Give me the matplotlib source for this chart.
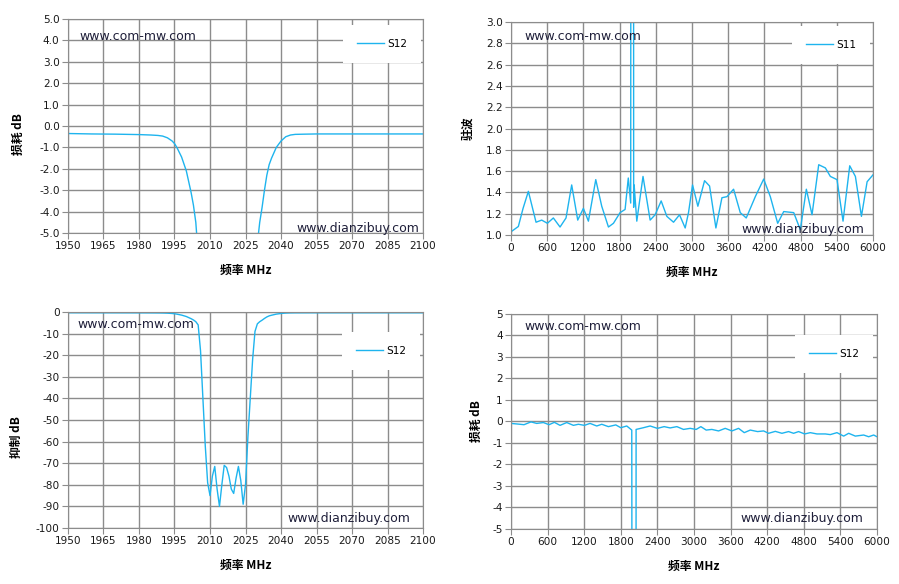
import numpy as np
import matplotlib.pyplot as plt
from matplotlib.ticker import FormatStrFormatter

plt.rcParams['font.family'] = ['DejaVu Sans', 'Noto Sans CJK SC']

# narrow band S12, 1950-2100 MHz (same sweep for loss and rejection plots)
f_nb = [1950, 1960, 1970, 1980, 1985, 1988, 1990, 1992, 1994, 1995, 1996, 1998,
        2000, 2002, 2003, 2004, 2005, 2006, 2007, 2008, 2009, 2010, 2011, 2012,
        2013, 2014, 2015, 2016, 2017, 2018, 2019, 2020, 2021, 2022, 2023, 2024,
        2025, 2026, 2027, 2028, 2029, 2030, 2031, 2032, 2033, 2034, 2035, 2036,
        2038, 2040, 2042, 2044, 2046, 2050, 2055, 2070, 2085, 2100]
s12_nb = [-0.35, -0.37, -0.38, -0.40, -0.42, -0.44, -0.47, -0.55, -0.70, -0.82, -1.0, -1.45,
          -2.1, -3.1, -3.7, -4.5, -6.0, -18, -40, -62, -79, -85, -76, -71.5,
          -82, -90, -80, -71, -72, -76, -82, -84, -77, -71.5, -78, -89,
          -80, -58, -40, -22, -9, -5.5, -4.5, -3.8, -3.0, -2.3, -1.8, -1.5,
          -1.0, -0.70, -0.50, -0.42, -0.39, -0.38, -0.37, -0.37, -0.37, -0.37]

# wide band S11 VSWR, 0-6000 MHz
f_vswr = [0, 122, 200, 288, 415, 509, 603, 702, 813, 912, 1006, 1106, 1200, 1283,
          1405, 1504, 1615, 1698, 1808, 1891, 1944, 1984, 2000, 2025, 2033, 2041,
          2085, 2188, 2306, 2389, 2489, 2583, 2694, 2793, 2887, 2942, 3009, 3097,
          3208, 3291, 3396, 3496, 3579, 3689, 3800, 3899, 4049, 4188, 4298, 4420,
          4520, 4686, 4795, 4895, 4989, 5100, 5210, 5293, 5403, 5503, 5614, 5708,
          5808, 5902, 6000]
vswr = [1.03, 1.08, 1.25, 1.41, 1.12, 1.14, 1.11, 1.16, 1.075, 1.16, 1.47, 1.14, 1.25, 1.13,
        1.52, 1.27, 1.075, 1.11, 1.21, 1.24, 1.535, 1.30, 20.0, 20.0, 1.26, 1.47,
        1.13, 1.55, 1.14, 1.19, 1.32, 1.175, 1.12, 1.19, 1.066, 1.21, 1.47, 1.27,
        1.51, 1.46, 1.066, 1.35, 1.36, 1.43, 1.21, 1.16, 1.36, 1.525, 1.36, 1.11,
        1.22, 1.21, 1.05, 1.43, 1.19, 1.66, 1.63, 1.55, 1.52, 1.13, 1.65, 1.55,
        1.175, 1.50, 1.565]

# wide band S12 loss, 0-6000 MHz
f_wb = [0, 148, 213, 328, 421, 531, 624, 711, 804, 914, 1023, 1105, 1203, 1296,
        1406, 1488, 1597, 1718, 1800, 1898, 1980, 2005, 2044, 2051, 2171, 2281,
        2401, 2511, 2609, 2719, 2828, 2938, 3036, 3113, 3200, 3293, 3403, 3512,
        3622, 3731, 3824, 3923, 4043, 4141, 4223, 4333, 4442, 4551, 4633, 4715,
        4814, 4907, 5016, 5153, 5235, 5344, 5454, 5536, 5645, 5782, 5864, 5946, 6000]
s12_wb = [-0.09, -0.13, -0.15, -0.02, -0.09, -0.05, -0.15, -0.04, -0.18, -0.05, -0.18, -0.13, -0.18, -0.09,
          -0.21, -0.13, -0.24, -0.16, -0.29, -0.21, -0.40, -60, -60, -0.37, -0.29, -0.21,
          -0.32, -0.24, -0.30, -0.24, -0.37, -0.32, -0.37, -0.24, -0.40, -0.37, -0.44, -0.32,
          -0.44, -0.32, -0.52, -0.40, -0.47, -0.44, -0.55, -0.46, -0.55, -0.47, -0.55, -0.47,
          -0.58, -0.52, -0.58, -0.58, -0.61, -0.52, -0.68, -0.55, -0.68, -0.63, -0.71, -0.63, -0.71]

blue = '#1EB4EE'
grid_c = '#8C8C8C'
cjk = ['Noto Sans CJK SC', 'DejaVu Sans']


def style(ax, xlim, xstep, ylim, ystep, yfmt, ylabel, ylab_xy):
    ax.set_xlim(*xlim)
    ax.set_ylim(*ylim)
    ax.set_xticks(np.arange(xlim[0], xlim[1] + 1, xstep))
    ax.set_yticks(np.arange(ylim[0], ylim[1] + ystep / 2, ystep))
    ax.yaxis.set_major_formatter(FormatStrFormatter(yfmt))
    ax.grid(True, color=grid_c, linewidth=1)
    ax.set_axisbelow(True)
    for s in ax.spines.values():
        s.set_color(grid_c)
    ax.tick_params(length=4, color=grid_c, labelsize=7.6, pad=2, labelcolor='#1a1a1a')
    ax.set_xlabel('频率 MHz', family=cjk, fontweight='bold', fontsize=8.5, labelpad=9)
    ax.set_ylabel(ylabel, family=cjk, fontweight='bold', fontsize=8.5)
    ax.yaxis.set_label_coords(*ylab_xy)


def marks(ax, top, bottom, leg_xy, label):
    ax.text(top[0], top[1], 'www.com-mw.com', transform=ax.transAxes,
            fontsize=9, color='#1f1f3a', ha='left', va='center')
    ax.text(bottom[0], bottom[1], 'www.dianzibuy.com', transform=ax.transAxes,
            fontsize=9, color='#1f1f3a', ha='right', va='center')
    leg = ax.legend([label], loc='center', bbox_to_anchor=leg_xy, fontsize=7.6,
                    frameon=True, fancybox=False, borderpad=1.3, handlelength=2.6,
                    handletextpad=0.3, borderaxespad=0)
    leg.get_frame().set_edgecolor('none')
    leg.get_frame().set_facecolor('white')
    leg.get_frame().set_alpha(1)


fig = plt.figure(figsize=(8.99, 5.84), dpi=100)

ax1 = fig.add_axes([0.0756, 0.601, 0.395, 0.3664])
ax1.plot(f_nb, s12_nb, color=blue, linewidth=1)
style(ax1, (1950, 2100), 15, (-5, 5), 1, '%.1f', '损耗 dB', (-0.121, 0.463))
marks(ax1, (0.031, 0.92), (0.989, 0.02), (0.885, 0.883), 'S12')

ax2 = fig.add_axes([0.5684, 0.5976, 0.4027, 0.3647])
ax2.plot(f_vswr, vswr, color=blue, linewidth=1)
style(ax2, (0, 6000), 600, (1.0, 3.0), 0.2, '%.1f', '驻波', (-0.100, 0.5))
marks(ax2, (0.036, 0.93), (0.975, 0.028), (0.884, 0.892), 'S11')

ax3 = fig.add_axes([0.0756, 0.0959, 0.395, 0.3699])
ax3.plot(f_nb, s12_nb, color=blue, linewidth=1)
style(ax3, (1950, 2100), 15, (-100, 0), 10, '%d', '抑制 dB', (-0.126, 0.42))
marks(ax3, (0.028, 0.94), (0.963, 0.042), (0.882, 0.82), 'S12')

ax4 = fig.add_axes([0.5684, 0.0942, 0.4071, 0.3682])
ax4.plot(f_wb, s12_wb, color=blue, linewidth=1)
style(ax4, (0, 6000), 600, (-5, 5), 1, '%d', '损耗 dB', (-0.076, 0.5))
marks(ax4, (0.036, 0.94), (0.964, 0.047), (0.883, 0.814), 'S12')

fig.savefig('out.png', dpi=100)
